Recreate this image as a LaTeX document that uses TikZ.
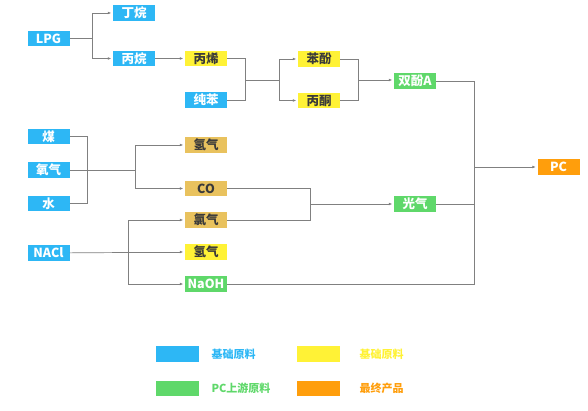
\documentclass[tikz,border=0pt]{standalone}
\usepackage{fontspec}
\setmainfont{Noto Sans CJK SC}
\usetikzlibrary{
arrows.meta,
positioning
}
\definecolor{rawblue}{HTML}{2DB7F5}
\definecolor{rawyellow}{HTML}{FFF236}
\definecolor{rawtan}{HTML}{E9C25E}
\definecolor{upgreen}{HTML}{5FD86A}
\definecolor{finalorange}{HTML}{FF9E0C}
\definecolor{linegray}{HTML}{808080}
\definecolor{darktext}{HTML}{3A3A3A}

\begin{document}
\begin{tikzpicture}[
x=1pt, y=-1pt,
box/.style={
rectangle,
minimum width=42pt,
minimum height=15.5pt,
inner sep=0pt,
font=\bfseries\fontsize{12.5}{14}\selectfont
},
basebox/.style={box, fill=rawblue, text=white},
midbox/.style={box, fill=rawyellow, text=darktext},
tanbox/.style={box, fill=rawtan, text=darktext},
upbox/.style={box, fill=upgreen, text=white},
endbox/.style={box, fill=finalorange, text=white},
keybox/.style={rectangle, minimum width=43pt, minimum height=15.5pt, inner sep=0pt},
keytext/.style={anchor=west, font=\bfseries\fontsize{11}{13}\selectfont},
link/.style={draw=linegray, line width=0.7pt},
arrow/.style={link, -{Latex[length=3.5pt,width=2.8pt]}, shorten >=1.5pt}
]
\useasboundingbox (0,0) rectangle (588,411);

% raw materials
\node[basebox] (lpg) at (48.5,38.5) {LPG};
\node[basebox] (mei) at (48.5,136.5) {煤};
\node[basebox] (yangqi) at (48.5,170) {氧气};
\node[basebox] (shui) at (48.5,203.5) {水};
\node[basebox] (nacl) at (48.5,253) {NACl};
\node[basebox] (dingwan) at (134,13) {丁烷};
\node[basebox] (bingwan) at (134,58.5) {丙烷};
\node[basebox] (chunben) at (206,100) {纯苯};

% intermediates
\node[midbox] (bingxi) at (206,58.5) {丙烯};
\node[midbox] (benfen) at (319,59) {苯酚};
\node[midbox] (bingtong) at (319,100.5) {丙酮};
\node[tanbox] (qingqia) at (206,145) {氢气};
\node[tanbox] (co) at (206,188.5) {CO};
\node[tanbox] (lvqi) at (206,220) {氯气};
\node[midbox] (qingqib) at (206,252) {氢气};

% upstream and product
\node[upbox] (naoh) at (206,284) {NaOH};
\node[upbox] (bpa) at (415,81) {双酚A};
\node[upbox] (guangqi) at (415,204) {光气};
\node[endbox] (pc) at (558.5,167) {PC};

% junctions
\coordinate (jlpg) at (92,38.5);
\coordinate (jbx) at (245,80);
\coordinate (jbxb) at (279,80);
\coordinate (jbf) at (358,80);
\coordinate (jmei) at (87,170);
\coordinate (jqq) at (135,170);
\coordinate (jnacl) at (128,252.5);
\coordinate (jgq) at (310,204);
\coordinate (jpc) at (474,167);

\draw[link] (lpg) -- (jlpg);
\draw[arrow] (jlpg) |- (dingwan);
\draw[arrow] (jlpg) |- (bingwan);
\draw[arrow] (bingwan) -- (bingxi);

\draw[link] (bingxi) -| (jbx);
\draw[link] (chunben) -| (jbx);
\draw[link] (jbx) -- (jbxb);
\draw[arrow] (jbxb) |- (benfen);
\draw[arrow] (jbxb) |- (bingtong);
\draw[link] (benfen) -| (jbf);
\draw[link] (bingtong) -| (jbf);
\draw[arrow] (jbf) -- (bpa.west |- jbf);

\draw[link] (mei) -| (jmei);
\draw[link] (yangqi) -- (jmei);
\draw[link] (shui) -| (jmei);
\draw[link] (jmei) -- (jqq);
\draw[arrow] (jqq) |- (qingqia);
\draw[arrow] (jqq) |- (co);

\draw[link] (nacl) -- (jnacl);
\draw[arrow] (jnacl) |- (lvqi);
\draw[arrow] (jnacl) |- (qingqib);
\draw[arrow] (jnacl) |- (naoh);

\draw[link] (co) -| (jgq);
\draw[link] (lvqi) -| (jgq);
\draw[arrow] (jgq) -- (guangqi);

\draw[link] (bpa) -| (jpc);
\draw[link] (guangqi) -| (jpc);
\draw[link] (naoh) -| (jpc);
\draw[arrow] (jpc) -- (pc);

% legend
\node[keybox, fill=rawblue] (keyraw) at (177.5,354) {};
\node[keytext, text=rawblue] (keyrawtext) at (208,354) {基础原料};
\node[keybox, fill=rawyellow] (keymid) at (318.5,354) {};
\node[keytext, text=rawyellow] (keymidtext) at (356,354) {基础原料};
\node[keybox, fill=upgreen] (keyup) at (177.5,388.5) {};
\node[keytext, text=upgreen] (keyuptext) at (208,388.5) {PC上游原料};
\node[keybox, fill=finalorange] (keyend) at (318.5,388.5) {};
\node[keytext, text=finalorange] (keyendtext) at (356,388.5) {最终产品};

\end{tikzpicture}
\end{document}
